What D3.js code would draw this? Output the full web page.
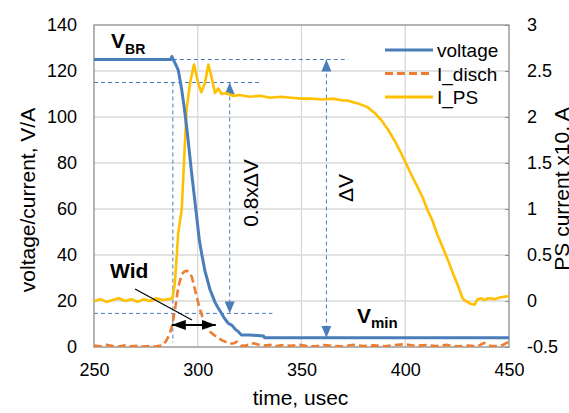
<!DOCTYPE html>
<html lang="en">
<head>
<meta charset="UTF-8">
<title>Breakdown waveform</title>
<script src="https://d3js.org/d3.v7.min.js"></script>
<style>
  body { margin: 0; background: #fff; }
  svg { display: block; font-family: Arial, "Liberation Sans", sans-serif; }
  .grid line { stroke: #d9d9d9; stroke-width: 1.3; }
  .axis text { font-size: 18px; fill: #000; }
  .axis path { display: none; }
  .axis line { stroke: #8c8c8c; }
  .guide { stroke: #4a7ebb; stroke-width: 1; stroke-dasharray: 4,3; fill: none; }
  .title { font-size: 21px; fill: #000; }
</style>
</head>
<body>
<svg id="chart"></svg>
<script>
// time axis (usec) and the three traces
var tV = [250, 287, 287.5, 288.2, 289, 290.6, 292.3, 293.5, 295, 297, 298.8, 300.7, 302, 303.5, 305.9,
          308.3, 309.5, 311.5, 312.5, 314.7, 316.5, 318, 319.5, 321, 325, 328.6, 331.7, 332.2, 450];
var voltage = [125, 125, 126.3, 125, 123.5, 120.4, 111.7, 104, 93, 76, 62, 47, 40, 33, 25,
               19.5, 17.5, 14.6, 13, 10.3, 9.4, 7.8, 6.7, 5.2, 5.2, 5, 4.8, 4, 4];

var tD = [250, 253, 256, 259, 262, 265, 268, 271, 274, 277, 280, 282, 283.5, 285, 286.6, 287.8, 289, 290.6,
          292.3, 293.5, 294.7, 296, 297.1, 298.7, 300.7, 302.7, 304.3, 305.9, 307.5, 309, 311.5, 313.5, 315.5,
          317, 318.8, 321, 323, 325, 327, 329, 332, 335, 338, 341, 345, 349, 353, 357, 361, 365, 370, 375, 380,
          385, 390, 395, 400, 405, 410, 415, 420, 425, 430, 435, 438, 441, 444, 447, 450];
var iDisch = [0.6, 0.3, 0.9, 0.4, 0.2, 0.7, 0.3, 0.5, 0.2, 0.4, 0.3, 0.6, 1, 3, 6, 10, 16, 26,
              31.7, 32.8, 33.2, 32.3, 30.6, 24.8, 17.5, 11.7, 9, 6.7, 5.4, 4.5, 3, 2.2, 1.6,
              1.5, 2.3, 0.5, 0.6, 1.2, 1.6, 1.1, 0.6, 0.9, 0.4, 0.8, 0.5, 0.9, 0.4, 0.3, 0.8, 0.5, 0.3, 1, 0.4,
              0.7, 0.3, 0.9, 1.2, 0.5, 0.8, 0.4, 0.9, 0.3, 0.6, 0.4, 1.8, 0.5, 0.4, 0.9, 2.3];

var tP = [250, 253, 256, 259, 262, 265, 268, 271, 274, 277, 280, 283, 286, 287.8, 289, 290.6, 292.3, 294.6,
          296.3, 298.2, 300.2, 301.7, 303.5, 305.1, 306.5, 308.3, 309.9, 311.5, 313.5, 317, 320,
          325, 330, 335, 340, 345, 350, 355, 360, 365, 370, 372, 375, 378, 381.6, 385, 388.3, 391.5, 394.7,
          397.5, 400.3, 403, 405.9, 408.5, 410.7, 413, 415.5, 418.7, 421, 423, 425, 426.5, 427.6, 429, 430,
          431.5, 433.3, 435, 436.5, 438, 440, 443, 446, 449.3, 450];
var iPS = [0.0, 0.02, -0.01, 0.01, 0.03, 0.0, 0.02, -0.01, 0.02, 0.0, 0.03, 0.01, 0.02, 0.03, 0.2, 0.74, 1.0, 2.08,
           2.37, 2.57, 2.37, 2.27, 2.37, 2.57, 2.45, 2.26, 2.31, 2.25, 2.26, 2.23, 2.24,
           2.22, 2.23, 2.21, 2.22, 2.21, 2.2, 2.2, 2.19, 2.2, 2.18, 2.18, 2.16, 2.14, 2.11, 2.05, 1.97, 1.87, 1.75,
           1.63, 1.5, 1.37, 1.24, 1.12, 0.99, 0.88, 0.72, 0.55, 0.42, 0.3, 0.19, 0.1, 0.03, 0.0, -0.01,
           -0.03, -0.04, 0.02, 0.03, 0.01, 0.03, 0.02, 0.04, 0.05, 0.05];

// axis ticks
var xTicks = [250, 300, 350, 400, 450];
var yTicks = [0, 20, 40, 60, 80, 100, 120, 140];
var y2Ticks = [-0.5, 0, 0.5, 1, 1.5, 2, 2.5, 3];

// annotation levels (V) and times (usec)
var vBR = 125, vMin = 4, vHi = 115, vLo = 14.6;
var tEdge = 288, tDv08 = 315.4, tDv = 362;

var W = 569, H = 413;
var plot = { left: 94, right: 509, top: 25, bottom: 347 };

var x = d3.scaleLinear().domain([250, 450]).range([plot.left, plot.right]);
var y = d3.scaleLinear().domain([0, 140]).range([plot.bottom, plot.top]);
var y2 = d3.scaleLinear().domain([-0.5, 3]).range([plot.bottom, plot.top]);

var svg = d3.select("#chart").attr("width", W).attr("height", H);

var defs = svg.append("defs");
defs.append("clipPath").attr("id", "clip")
  .append("rect")
    .attr("x", plot.left).attr("y", plot.top - 4)
    .attr("width", plot.right - plot.left).attr("height", plot.bottom - plot.top + 4);
defs.append("marker").attr("id", "blueHead")
    .attr("viewBox", "0 0 12 10").attr("refX", 12).attr("refY", 5)
    .attr("markerWidth", 12).attr("markerHeight", 10).attr("markerUnits", "userSpaceOnUse")
    .attr("orient", "auto-start-reverse")
  .append("path").attr("d", "M0,0L12,5L0,10Z").attr("fill", "#4a7ebb");
defs.append("marker").attr("id", "blackHead")
    .attr("viewBox", "0 0 14 10").attr("refX", 14).attr("refY", 5)
    .attr("markerWidth", 14).attr("markerHeight", 10).attr("markerUnits", "userSpaceOnUse")
    .attr("orient", "auto-start-reverse")
  .append("path").attr("d", "M0,0L14,5L0,10Z").attr("fill", "#000");

// grid
svg.append("g").attr("class", "grid")
  .selectAll("line.h").data(yTicks.slice(1, -1)).enter().append("line")
    .attr("x1", plot.left).attr("x2", plot.right)
    .attr("y1", function(d) { return y(d); }).attr("y2", function(d) { return y(d); });
svg.select(".grid")
  .selectAll("line.v").data(xTicks.slice(1, -1)).enter().append("line")
    .attr("y1", plot.top).attr("y2", plot.bottom)
    .attr("x1", function(d) { return x(d); }).attr("x2", function(d) { return x(d); });

svg.append("rect")
    .attr("x", plot.left).attr("y", plot.top)
    .attr("width", plot.right - plot.left).attr("height", plot.bottom - plot.top)
    .attr("fill", "none").attr("stroke", "#8c8c8c").attr("stroke-width", 1.3);

// axes
svg.append("g").attr("class", "axis")
    .attr("transform", "translate(0," + plot.bottom + ")")
    .call(d3.axisBottom(x).tickValues(xTicks).tickSize(0).tickPadding(16));
svg.append("g").attr("class", "axis")
    .attr("transform", "translate(" + plot.left + ",0)")
    .call(d3.axisLeft(y).tickValues(yTicks).tickSize(0).tickPadding(17));
svg.append("g").attr("class", "axis")
    .attr("transform", "translate(" + plot.right + ",0)")
    .call(d3.axisRight(y2).tickValues(y2Ticks).tickSizeInner(-4).tickSizeOuter(0).tickPadding(18)
      .tickFormat(function(d) { return String(d); }));

// guide lines
var g = svg.append("g");
function guide(t1, v1, t2, v2, heads) {
  var l = g.append("line").attr("class", "guide")
      .attr("x1", x(t1)).attr("y1", y(v1)).attr("x2", x(t2)).attr("y2", y(v2));
  if (heads) l.attr("marker-start", "url(#blueHead)").attr("marker-end", "url(#blueHead)");
}
guide(tEdge, vBR, 372.5, vBR);
guide(250, vHi, 330, vHi);
guide(250, vLo, 336, vLo);
guide(tEdge, vHi, tEdge, 2);
guide(tDv08, vHi, tDv08, vLo, true);
guide(tDv, vBR, tDv, vMin, true);

// traces
var series = svg.append("g").attr("clip-path", "url(#clip)");
var lineV = d3.line().x(function(d, i) { return x(tV[i]); }).y(function(d) { return y(d); });
var lineD = d3.line().x(function(d, i) { return x(tD[i]); }).y(function(d) { return y(d); });
var lineP = d3.line().x(function(d, i) { return x(tP[i]); }).y(function(d) { return y2(d); });

series.append("path").attr("d", lineP(iPS))
    .attr("fill", "none").attr("stroke", "#ffc000").attr("stroke-width", 2.6).attr("stroke-linejoin", "round");
series.append("path").attr("d", lineV(voltage))
    .attr("fill", "none").attr("stroke", "#4a7ebb").attr("stroke-width", 3).attr("stroke-linejoin", "round");
series.append("path").attr("d", lineD(iDisch))
    .attr("fill", "none").attr("stroke", "#ed7d31").attr("stroke-width", 2.6).attr("stroke-dasharray", "8,4");

// Wid marker
svg.append("line")
    .attr("x1", x(269.8)).attr("y1", y(25.2)).attr("x2", x(297.2)).attr("y2", y(11.7))
    .attr("stroke", "#000").attr("stroke-width", 1.2);
svg.append("line")
    .attr("x1", x(287.5)).attr("y1", y(9.6)).attr("x2", x(308.7)).attr("y2", y(9.6))
    .attr("stroke", "#000").attr("stroke-width", 2)
    .attr("marker-start", "url(#blackHead)").attr("marker-end", "url(#blackHead)");

// labels
function subLabel(px, py, main, sub, subSize, subDy) {
  var t = svg.append("text").attr("x", px).attr("y", py)
      .attr("font-weight", "bold").attr("font-size", "21px");
  t.append("tspan").text(main);
  t.append("tspan").attr("font-size", subSize).attr("dy", subDy).text(sub);
}
subLabel(111, 48, "V", "BR", "14px", 6);
subLabel(357, 323, "V", "min", "15px", 5);
svg.append("text").attr("x", 110).attr("y", 278)
    .attr("font-weight", "bold").attr("font-size", "21px").text("Wid");

svg.append("text").attr("class", "title").attr("text-anchor", "middle")
    .attr("transform", "translate(258,193) rotate(-90)").text("0.8x\u0394V");
svg.append("text").attr("class", "title").attr("text-anchor", "middle")
    .attr("transform", "translate(353,188) rotate(-90)").text("\u0394V");

svg.append("text").attr("class", "title").attr("text-anchor", "middle")
    .attr("x", 300.5).attr("y", 405).text("time, usec");
svg.append("text").attr("class", "title").attr("text-anchor", "middle")
    .attr("transform", "translate(35,200) rotate(-90)").text("voltage/current, V/A");
svg.append("text").attr("class", "title").attr("text-anchor", "middle")
    .attr("transform", "translate(569,189) rotate(-90)").text("PS current x10, A");

// legend
var legend = [
  { name: "voltage", color: "#4a7ebb", dash: null },
  { name: "I_disch", color: "#ed7d31", dash: "8,4" },
  { name: "I_PS", color: "#ffc000", dash: null }
];
var lg = svg.append("g").selectAll("g").data(legend).enter().append("g")
    .attr("transform", function(d, i) { return "translate(385," + (50 + i * 23.5) + ")"; });
lg.append("line").attr("x1", 0).attr("x2", 48)
    .attr("stroke", function(d) { return d.color; }).attr("stroke-width", 3)
    .attr("stroke-dasharray", function(d) { return d.dash; });
lg.append("text").attr("x", 52).attr("y", 7).attr("font-size", "19px").text(function(d) { return d.name; });
</script>
</body>
</html>
